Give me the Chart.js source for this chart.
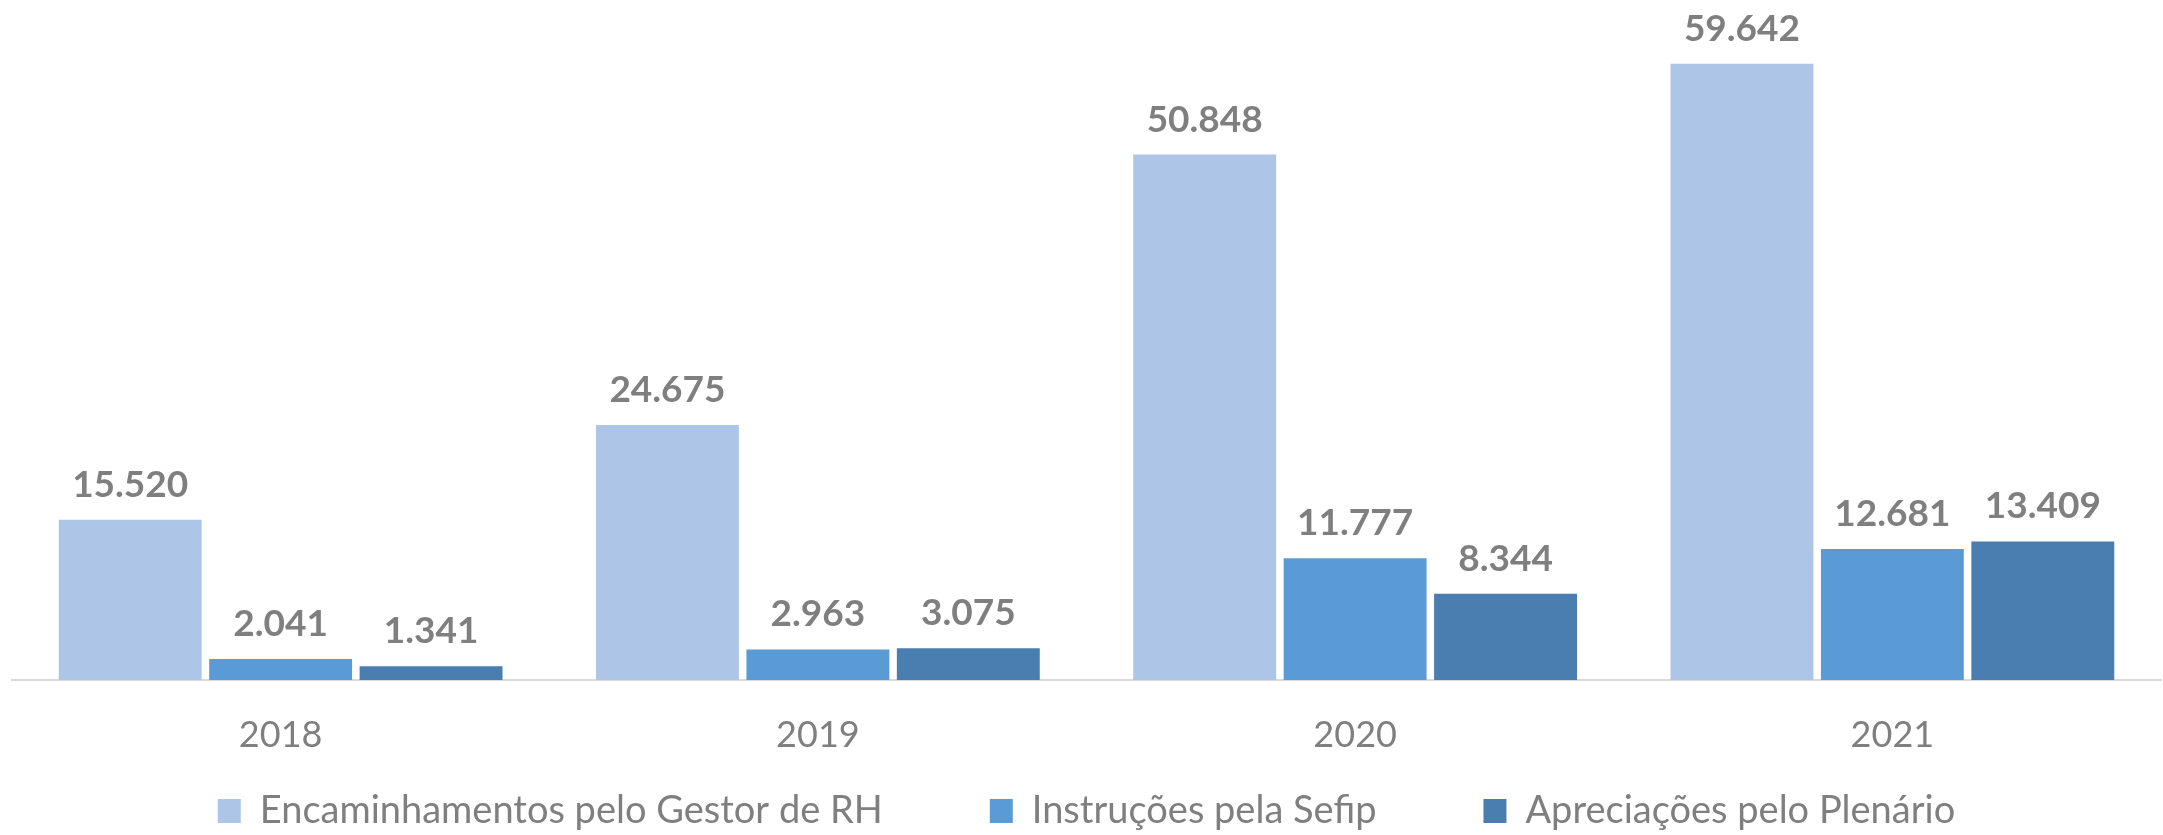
<!DOCTYPE html>
<html>
<head>
<meta charset="utf-8">
<script src="https://cdn.jsdelivr.net/npm/chart.js@4/dist/chart.umd.min.js"></script>
<style>
  html, body { margin: 0; padding: 0; background: #ffffff; }
  canvas { display: block; }
</style>
</head>
<body>
<canvas id="c" width="2163" height="835"></canvas>
<script>
const categories = ['2018', '2019', '2020', '2021'];
const seriesNames = ['Encaminhamentos pelo Gestor de RH', 'Instruções pela Sefip', 'Apreciações pelo Plenário'];
const encaminhamentos = [15520, 24675, 50848, 59642];
const instrucoes = [2041, 2963, 11777, 12681];
const apreciacoes = [1341, 3075, 8344, 13409];
const colors = ['#ADC6E7', '#5B9BD5', '#4A7EB0'];

const FONT = 'Lato, "Open Sans", "Noto Sans", sans-serif';
const TEXT = '#7F7F7F';

function fmt(v) {
  return v.toLocaleString('de-DE');
}

const dataLabels = {
  id: 'dataLabels',
  afterDatasetsDraw(chart) {
    const ctx = chart.ctx;
    ctx.save();
    ctx.font = 'bold 37px ' + FONT;
    ctx.fillStyle = TEXT;
    ctx.textAlign = 'center';
    ctx.textBaseline = 'alphabetic';
    chart.data.datasets.forEach((ds, i) => {
      const meta = chart.getDatasetMeta(i);
      meta.data.forEach((bar, j) => {
        ctx.fillText(fmt(ds.data[j]), bar.x, bar.y - 23);
      });
    });
    ctx.restore();
  }
};

new Chart(document.getElementById('c'), {
  type: 'bar',
  data: {
    labels: categories,
    datasets: [
      { label: seriesNames[0], data: encaminhamentos, backgroundColor: colors[0], borderWidth: 0 },
      { label: seriesNames[1], data: instrucoes, backgroundColor: colors[1], borderWidth: 0 },
      { label: seriesNames[2], data: apreciacoes, backgroundColor: colors[2], borderWidth: 0 }
    ]
  },
  options: {
    responsive: false,
    devicePixelRatio: 1,
    animation: false,
    categoryPercentage: 0.84,
    barPercentage: 0.95,
    layout: { padding: { left: 12, right: 2, top: 60, bottom: -5 } },
    scales: {
      x: {
        grid: { display: false, drawTicks: false },
        border: { display: true, color: '#D9D9D9', width: 2 },
        ticks: { color: TEXT, font: { family: FONT, size: 36 }, mirror: true, padding: -76.6 },
        afterFit(scale) { scale.height = 5; }
      },
      y: {
        display: false,
        min: 0,
        max: 60000
      }
    },
    plugins: {
      tooltip: { enabled: false },
      legend: {
        position: 'bottom',
        labels: {
          boxWidth: 23,
          boxHeight: 24,
          padding: 107,
          color: TEXT,
          font: { family: FONT, size: 38 }
        }
      }
    }
  },
  plugins: [dataLabels]
});
</script>
</body>
</html>
